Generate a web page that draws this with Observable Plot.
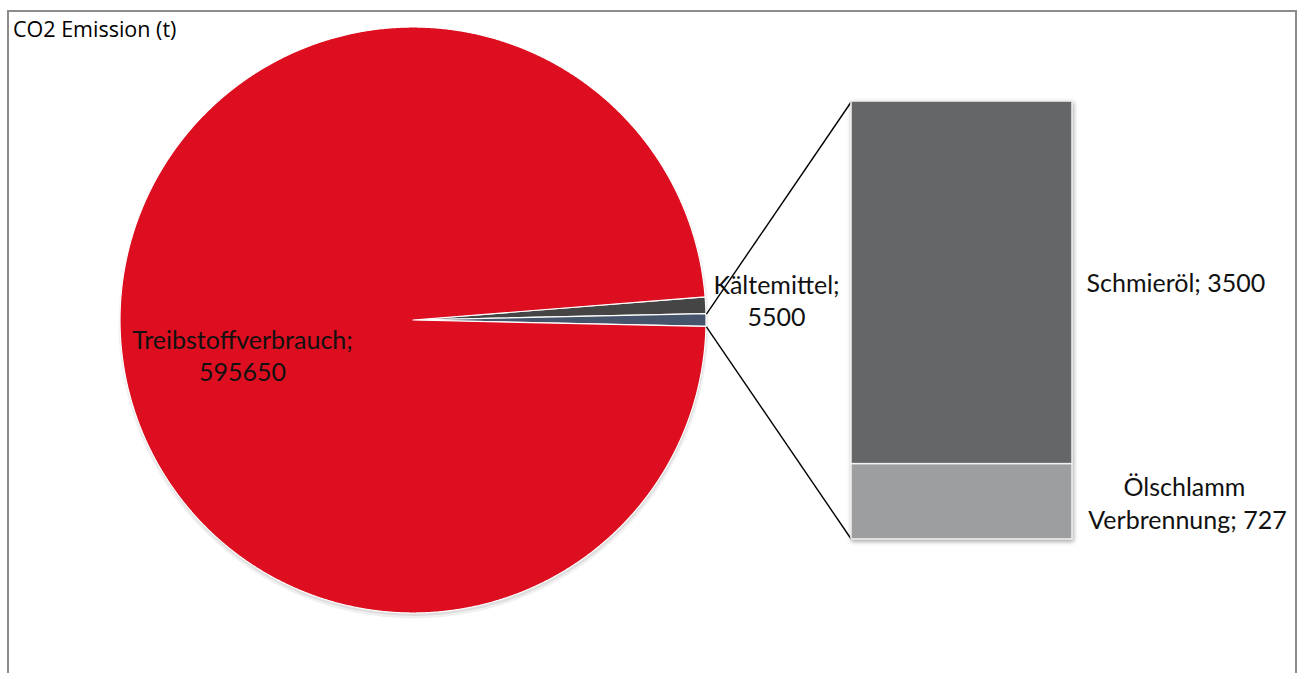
<!DOCTYPE html>
<html><head><meta charset="utf-8">
<script src="https://cdn.jsdelivr.net/npm/d3@7"></script>
<script src="https://cdn.jsdelivr.net/npm/@observablehq/plot@0.6"></script>
<style>
body{margin:0;background:#fff;overflow:hidden}
#wrap{position:relative;width:1298px;height:673px;overflow:hidden;background:#fff}
#frame{position:absolute;left:7px;top:10px;width:1286px;height:720px;border:2px solid #8c8c8c;pointer-events:none}
#title{position:absolute;left:13px;top:15px;font:21.5px "Open Sans";color:#000;line-height:28px}
#main{position:absolute;left:0;top:0}
#bar{position:absolute;left:851px;top:101px;filter:drop-shadow(1px 2px 2px rgba(0,0,0,0.35))}
#main svg, #bar svg{background:transparent;overflow:visible;display:block}
</style></head><body>
<div id="wrap"><div id="main"></div><div id="bar"></div><div id="frame"></div><div id="title">CO2 Emission (t)</div></div>
<script>
// ---- data ----
const pieCategories = ["Kältemittel", "Treibstoffverbrauch"];
const pieValues = [5500, 595650];
const barCategories = ["Schmieröl", "Ölschlamm Verbrennung"];
const barValues = [3500, 727];
const otherName = "Andere";
const pieColors = ["#454545", "#dc0e1f"];
const otherColor = "#47556c";
const barColors = ["#656668", "#9d9ea0"];

// ---- layout ----
const W = 1298, H = 673;
const cx = 413, cy = 320, R = 293;
const barLeft = 851, barTop = 101, barW = 221, barH = 438;
const fontFam = "Lato";
const fs = 25;

const otherValue = d3.sum(barValues);
// slice order clockwise: Kältemittel, Andere (centred at 3 o'clock), Treibstoffverbrauch
const slices = [
  {name: pieCategories[0], value: pieValues[0], color: pieColors[0]},
  {name: otherName, value: otherValue, color: otherColor},
  {name: pieCategories[1], value: pieValues[1], color: pieColors[1]}
];
const total = d3.sum(slices, d => d.value);
const otherSpan = otherValue / total * 2 * Math.PI;
const start = Math.PI / 2 - otherSpan / 2 - slices[0].value / total * 2 * Math.PI;
const arcs = d3.pie().sort(null).value(d => d.value).startAngle(start).endAngle(start + 2 * Math.PI)(slices);

const px = a => cx + R * Math.sin(a);
const py = a => cy - R * Math.cos(a);
const piePts = [];
for (const a of arcs) {
  const name = a.data.name;
  piePts.push({name, x: cx, y: cy});
  const n = Math.max(2, Math.ceil((a.endAngle - a.startAngle) / (0.2 * Math.PI / 180)));
  for (let i = 0; i <= n; i++) {
    const t = a.startAngle + (a.endAngle - a.startAngle) * i / n;
    piePts.push({name, x: px(t), y: py(t)});
  }
}
const otherArc = arcs[1];
const connectors = [
  {x1: px(otherArc.startAngle), y1: py(otherArc.startAngle), x2: barLeft, y2: barTop},
  {x1: px(otherArc.endAngle), y1: py(otherArc.endAngle), x2: barLeft, y2: barTop + barH}
];

const centerLabels = [
  {text: `${pieCategories[1]};\n${pieValues[1]}`, x: 242, y: 354},
  {text: `${pieCategories[0]};\n${pieValues[0]}`, x: 776, y: 299}
];
const olLabel = [
  {text: barCategories[1].split(" ")[0], x: 1184, y: 487},
  {text: `${barCategories[1].split(" ")[1]}; ${barValues[1]}`, x: 1187, y: 520}
];
const startLabels = [
  {text: `${barCategories[0]}; ${barValues[0]}`, x: 1086, y: 283}
];

const main = Plot.plot({
  width: W, height: H,
  margin: 0,
  x: {type: "identity", axis: null},
  y: {type: "identity", axis: null},
  color: {domain: slices.map(d => d.name), range: slices.map(d => d.color)},
  marks: [
    // soft shadow beneath the pie
    Plot.dot([{x: cx, y: cy}], {x: "x", y: "y", r: R + 2, dy: 3, fill: "#000", fillOpacity: 0.06, stroke: "none"}),
    Plot.dot([{x: cx, y: cy}], {x: "x", y: "y", r: R + 0.5, dy: 2, fill: "#000", fillOpacity: 0.08, stroke: "none"}),
    Plot.area(piePts, {x1: "x", y1: "y", x2: cx, y2: cy, z: "name", fill: "name", stroke: "white", strokeWidth: 1.2}),
    Plot.link(connectors, {x1: "x1", y1: "y1", x2: "x2", y2: "y2", stroke: "#000", strokeWidth: 1.4}),
    Plot.text(centerLabels, {x: "x", y: "y", text: "text", textAnchor: "middle", lineAnchor: "middle", lineHeight: 1.28, fontSize: fs, fontFamily: fontFam, fill: "#111"}),
    Plot.text(olLabel, {x: "x", y: "y", text: "text", textAnchor: "middle", lineAnchor: "middle", fontSize: fs, fontFamily: fontFam, fill: "#111"}),
    Plot.text(startLabels, {x: "x", y: "y", text: "text", textAnchor: "start", lineAnchor: "middle", fontSize: fs, fontFamily: fontFam, fill: "#111"})
  ]
});
document.getElementById("main").appendChild(main);

const barData = barCategories.map((c, i) => ({name: c, value: barValues[i], group: otherName}));
const bar = Plot.plot({
  width: barW, height: barH,
  margin: 0,
  x: {axis: null, padding: 0},
  y: {axis: null, domain: [0, otherValue]},
  color: {domain: barCategories, range: barColors},
  marks: [
    Plot.barY(barData, {x: "group", y: "value", fill: "name", order: "value", stroke: "#f2f2f2", strokeWidth: 1.5, inset: 0})
  ]
});
document.getElementById("bar").appendChild(bar);
</script>
</body></html>
